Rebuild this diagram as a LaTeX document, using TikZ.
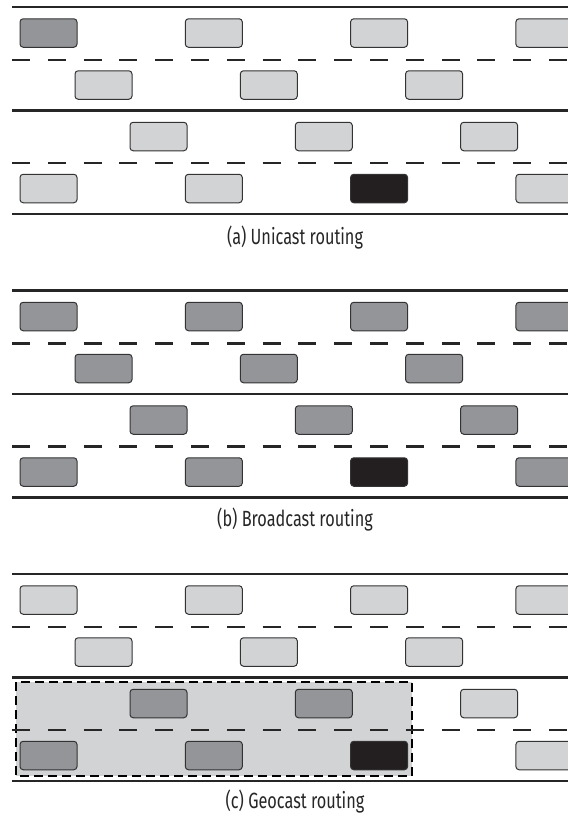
\documentclass[tikz,border=0pt]{standalone}
\usepackage{fontspec}
\setmainfont{Fira Sans}[FakeStretch=0.74]
\definecolor{carlight}{HTML}{D1D3D4}
\definecolor{carmid}{HTML}{939598}
\definecolor{cardark}{HTML}{231F20}
\tikzset{
	% road markings: solid edges and dashed lane dividers
	road edge/.style={line width=1.3pt,draw=black!85},
	lane line/.style={line width=1.3pt,draw=black!85,dash pattern=on 9pt off 8.9pt},
	% vehicles in three shades
	car/.style={draw=black!80,line width=0.5pt,rounded corners=1.6pt,minimum width=28.5pt,minimum height=14.25pt,inner sep=0pt},
	idle/.style={car,fill=carlight},
	hit/.style={car,fill=carmid},
	src/.style={car,fill=cardark},
	zone/.style={fill=carlight,draw=black,line width=0.85pt,dash pattern=on 4.5pt off 2.5pt},
	caption/.style={font=\fontsize{11}{13}\selectfont,text=black!85}
}
\begin{document}
\begin{tikzpicture}[x=0.5pt,y=-0.5pt]
	% macro for one row of cars: name, y, left edge of first car, styles
	\newcommand{\carrow}[4]{
		\foreach \s [count=\k from 0] in {#4}
			\node[\s] (#1-\k) at ({#3+28.5+165.3*\k},#2) {};
	}
	% macro for the road of one panel
	\newcommand{\roadway}{
		\draw[road edge] (12,7) -- (568,7);
		\draw[lane line] (12,60) -- (568,60);
		\draw[road edge] (12,110.5) -- (568,110.5);
		\draw[lane line] (12,163) -- (568,163);
		\draw[road edge] (12,214) -- (568,214);
	}
	\useasboundingbox (0,0) rectangle (568,816);
	\clip (0,0) rectangle (568,816);
	
	% (a) unicast
	\roadway
	\carrow{a-1}{33}{20}{hit,idle,idle,idle}
	\carrow{a-2}{85}{75}{idle,idle,idle}
	\carrow{a-3}{136.5}{130}{idle,idle,idle}
	\carrow{a-4}{188.5}{20}{idle,idle,src,idle}
	\node[caption] (cap-a) at (295,238) {(a) Unicast routing};
	
	% (b) broadcast
	\begin{scope}[shift={(0,283.5)}]
		\roadway
		\carrow{b-1}{33}{20}{hit,hit,hit,hit}
		\carrow{b-2}{85}{75}{hit,hit,hit}
		\carrow{b-3}{136.5}{130}{hit,hit,hit}
		\carrow{b-4}{188.5}{20}{hit,hit,src,hit}
		\node[caption] (cap-b) at (295,236.5) {(b) Broadcast routing};
	\end{scope}
	
	% (c) geocast
	\begin{scope}[shift={(0,567)}]
		\draw[zone] (16,115) rectangle (412,209);
		\roadway
		\carrow{c-1}{33}{20}{idle,idle,idle,idle}
		\carrow{c-2}{85}{75}{idle,idle,idle}
		\carrow{c-3}{136.5}{130}{hit,hit,idle}
		\carrow{c-4}{188.5}{20}{hit,hit,src,idle}
		\node[caption] (cap-c) at (295,234.5) {(c) Geocast routing};
	\end{scope}
\end{tikzpicture}
\end{document}
